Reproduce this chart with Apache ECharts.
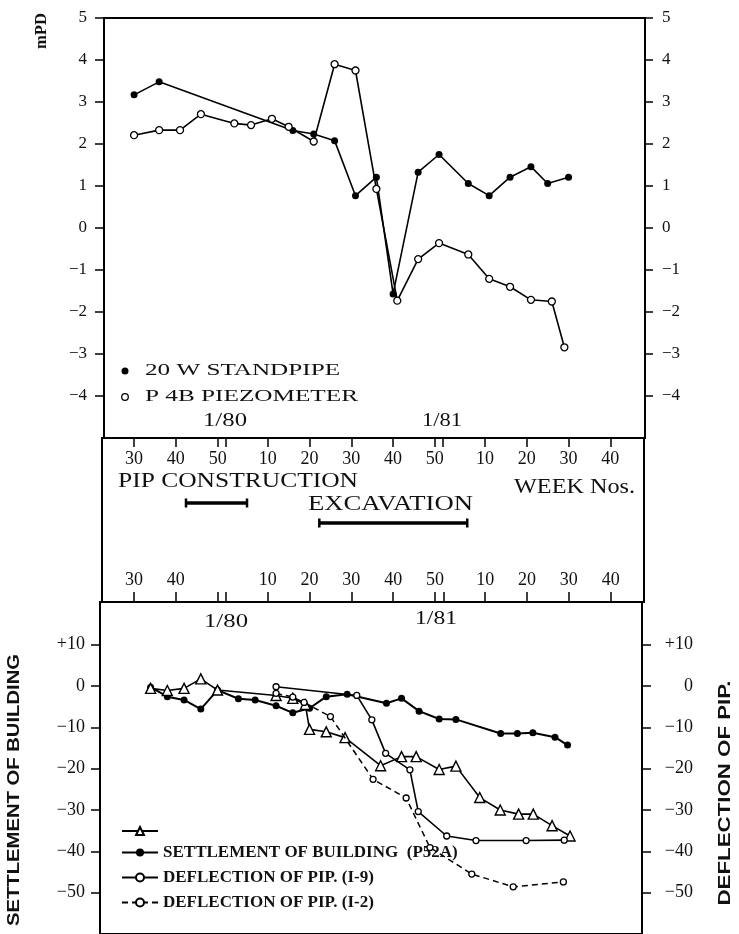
<!DOCTYPE html>
<html>
<head>
<meta charset="UTF-8">
<title>Groundwater level, building settlement and PIP deflection</title>
<style>
  html, body { margin: 0; padding: 0; background: #fff; }
  #chart { width: 739px; height: 934px; }
</style>
</head>
<body>
<div id="chart"></div>
<script src="https://cdn.jsdelivr.net/npm/echarts@6/dist/echarts.min.js"></script>
<script>
// weeks are counted on from 1979: week w of 1980 = 52 + w, week w of 1981 = 104 + w
var weekTicks = [30, 40, 50, 52, 62, 72, 82, 92, 102, 104, 114, 124, 134, 144];
var topWeekLabels = [30, 40, 50, 62, 72, 82, 92, 102, 114, 124, 134, 144];
var bottomWeekLabels = [30, 40, 62, 72, 82, 92, 102, 114, 124, 134, 144];
var levelTicks = [5, 4, 3, 2, 1, 0, -1, -2, -3, -4];
var deflTicks = [10, 0, -10, -20, -30, -40, -50];

// top panel: water level (mPD)
var standpipeWeeks = [30, 36, 68, 73, 78, 83, 88, 92, 98, 103, 110, 115, 120, 125, 129, 134];
var standpipeLevel = [3.17, 3.48, 2.32, 2.24, 2.08, 0.77, 1.21, -1.57, 1.33, 1.75, 1.06, 0.77, 1.21, 1.46, 1.06, 1.21];
var piezoWeeks = [30, 36, 41, 46, 54, 58, 63, 67, 73, 78, 83, 88, 93, 98, 103, 110, 115, 120, 125, 130, 133];
var piezoLevel = [2.21, 2.33, 2.33, 2.71, 2.49, 2.45, 2.60, 2.41, 2.06, 3.90, 3.75, 0.93, -1.73, -0.74, -0.36, -0.63, -1.21, -1.40, -1.71, -1.75, -2.84];

// periods of work (weeks)
var pipConstruction = [42.4, 57];
var excavation = [74.3, 109.7];

// bottom panel: settlement / deflection (mm)
var triWeeks = [34, 38, 42, 46, 50, 64, 68, 71, 72, 76, 80.5, 89, 94, 97.5, 103, 107, 112.7, 117.6, 122, 125.5, 130, 134.3];
var triValues = [-0.6, -1.1, -0.6, 1.7, -1.0, -2.3, -3.0, -4.5, -10.5, -11.1, -12.5, -19.3, -17.1, -17.1, -20.2, -19.4, -27, -30, -31, -31, -33.8, -36.3];
var settleWeeks = [34, 38, 42, 46, 50, 55, 59, 64, 68, 72, 76, 81, 90.4, 94, 98.2, 103, 107, 117.7, 121.7, 125.4, 130.7, 133.7];
var settleValues = [-0.3, -2.6, -3.4, -5.6, -1.0, -3.1, -3.4, -4.8, -6.5, -5.4, -2.6, -2.0, -4.2, -3.0, -6.1, -8.0, -8.1, -11.5, -11.5, -11.3, -12.4, -14.3];
var defl19Weeks = [64, 83.3, 86.9, 90.2, 96, 98, 104.8, 111.8, 123.8, 132.9];
var defl19Values = [-0.2, -2.3, -8.2, -16.3, -20.3, -30.4, -36.3, -37.4, -37.4, -37.3];
var defl12Weeks = [64, 68, 70.7, 77, 87.2, 95.1, 100.8, 110.8, 120.7, 132.7];
var defl12Values = [-1.8, -2.7, -4.0, -7.4, -22.6, -27.1, -39.1, -45.5, -48.6, -47.4];

function pairs(xs, ys) {
    return xs.map(function (x, i) { return [x, ys[i]]; });
}
function weekName(w) {
    return String(w > 104 ? w - 104 : (w > 52 ? w - 52 : w));
}
function signed(v, plus) {
    if (v < 0) return '\u2212' + Math.abs(v);
    if (v > 0 && plus) return '+' + v;
    return String(v);
}
var measureCtx = document.createElement('canvas').getContext('2d');
function fit(text, font, width) {
    measureCtx.font = font;
    return width / measureCtx.measureText(text).width;
}
function label(text, x, y, font, width, rotate, align) {
    return {
        type: 'text', x: x, y: y,
        rotation: rotate ? Math.PI / 2 : 0,
        scaleX: width ? fit(text, font, width) : 1,
        style: {
            text: text, font: font, fill: '#111',
            align: align || 'center', verticalAlign: 'middle'
        }
    };
}

var serif = 'Liberation Serif';
var blackLine = { color: '#000', width: 1.6 };
var tickStyle = { color: '#000', width: 1.5 };
var noLine = { show: false, onZero: false };

var chart = echarts.init(document.getElementById('chart'));
var option = {
    animation: false,
    backgroundColor: '#fff',
    grid: [
        { left: 104, right: 94, top: 18, height: 420, show: true, borderColor: '#000', borderWidth: 2 },
        { left: 100, right: 97, top: 602, height: 332, show: true, borderColor: '#000', borderWidth: 2 },
        { left: 102, right: 95, top: 438, height: 164, show: true, borderColor: '#000', borderWidth: 2 }
    ],
    xAxis: [
        {   // tick row under the upper panel
            gridIndex: 0, type: 'value', position: 'bottom', min: 22.8, max: 152.3,
            axisLine: noLine,
            axisTick: { show: true, length: 9, customValues: weekTicks, lineStyle: tickStyle },
            axisLabel: { customValues: topWeekLabels, formatter: weekName, margin: 12,
                fontFamily: serif, fontSize: 18, color: '#111' },
            splitLine: { show: false }
        },
        {   // tick row over the lower panel
            gridIndex: 1, type: 'value', position: 'top', min: 21.9, max: 151.5,
            axisLine: noLine,
            axisTick: { show: true, length: 10, customValues: weekTicks, lineStyle: tickStyle },
            axisLabel: { customValues: bottomWeekLabels, formatter: weekName, margin: 13,
                fontFamily: serif, fontSize: 18, color: '#111' },
            splitLine: { show: false }
        },
        { gridIndex: 2, type: 'value', min: 22.3, max: 152, show: false, axisLine: noLine }
    ],
    yAxis: [
        {
            gridIndex: 0, type: 'value', position: 'left', min: -5, max: 5,
            axisLine: noLine,
            axisTick: { show: true, length: 9, customValues: levelTicks, lineStyle: tickStyle },
            axisLabel: { customValues: levelTicks, formatter: function (v) { return signed(v); },
                margin: 17, fontFamily: serif, fontSize: 17, color: '#111' },
            splitLine: { show: false }
        },
        {
            gridIndex: 0, type: 'value', position: 'right', min: -5, max: 5,
            axisLine: noLine,
            axisTick: { show: true, length: 8, customValues: levelTicks, lineStyle: tickStyle },
            axisLabel: { customValues: levelTicks, formatter: function (v) { return signed(v); },
                margin: 17, fontFamily: serif, fontSize: 17, color: '#111' },
            splitLine: { show: false }
        },
        {
            gridIndex: 1, type: 'value', position: 'left', min: -60, max: 20.3,
            axisLine: noLine,
            axisTick: { show: true, length: 9, customValues: deflTicks, lineStyle: tickStyle },
            axisLabel: { customValues: deflTicks, formatter: function (v) { return signed(v, true); },
                margin: 15, fontFamily: serif, fontSize: 18, color: '#111' },
            splitLine: { show: false }
        },
        {
            gridIndex: 1, type: 'value', position: 'right', min: -60, max: 20.3,
            axisLine: noLine,
            axisTick: { show: true, length: 9, customValues: deflTicks, lineStyle: tickStyle },
            axisLabel: { customValues: deflTicks, formatter: function (v) { return signed(v, true); },
                margin: 51, align: 'right', fontFamily: serif, fontSize: 18, color: '#111' },
            splitLine: { show: false }
        },
        { gridIndex: 2, type: 'value', min: 0, max: 164, inverse: true, show: false, axisLine: noLine }
    ],
    legend: {
        orient: 'vertical', left: 116, top: 821, itemWidth: 36, itemHeight: 10, itemGap: 8,
        selectedMode: false,
        data: ['TRIANGLE', 'SETTLEMENT OF BUILDING', 'DEFLECTION OF PIP. (I-9)', 'DEFLECTION OF PIP. (I-2)'],
        formatter: function (name) {
            if (name === 'TRIANGLE') return '';
            if (name === 'SETTLEMENT OF BUILDING') return 'SETTLEMENT OF BUILDING  (P52A)';
            return name;
        },
        textStyle: { fontFamily: serif, fontWeight: 'bold', fontSize: 17, color: '#111' }
    },
    series: [
        {
            name: '20 W STANDPIPE', type: 'line', xAxisIndex: 0, yAxisIndex: 0,
            data: pairs(standpipeWeeks, standpipeLevel), showAllSymbol: true,
            symbol: 'circle', symbolSize: 7,
            itemStyle: { color: '#000' }, lineStyle: blackLine, z: 3
        },
        {
            name: 'P 4B PIEZOMETER', type: 'line', xAxisIndex: 0, yAxisIndex: 0,
            data: pairs(piezoWeeks, piezoLevel), showAllSymbol: true,
            symbol: 'circle', symbolSize: 7,
            itemStyle: { color: '#fff', borderColor: '#000', borderWidth: 1.3 }, lineStyle: blackLine, z: 4
        },
        {
            name: 'PIP CONSTRUCTION', type: 'line', xAxisIndex: 2, yAxisIndex: 4,
            data: [[pipConstruction[0], 65], [pipConstruction[1], 65]],
            symbol: 'rect', symbolSize: [2.5, 9], itemStyle: { color: '#000' },
            lineStyle: { color: '#000', width: 3.5 }, silent: true
        },
        {
            name: 'EXCAVATION', type: 'line', xAxisIndex: 2, yAxisIndex: 4,
            data: [[excavation[0], 85], [excavation[1], 85]],
            symbol: 'rect', symbolSize: [2.5, 9], itemStyle: { color: '#000' },
            lineStyle: { color: '#000', width: 3.5 }, silent: true
        },
        {
            name: 'TRIANGLE', type: 'line', xAxisIndex: 1, yAxisIndex: 2,
            data: pairs(triWeeks, triValues), showAllSymbol: true,
            symbol: 'triangle', symbolSize: 10,
            itemStyle: { color: '#fff', borderColor: '#000', borderWidth: 1.4 }, lineStyle: blackLine, z: 4
        },
        {
            name: 'SETTLEMENT OF BUILDING', type: 'line', xAxisIndex: 1, yAxisIndex: 2,
            data: pairs(settleWeeks, settleValues), showAllSymbol: true,
            symbol: 'circle', symbolSize: 7,
            itemStyle: { color: '#000' }, lineStyle: { color: '#000', width: 2 }, z: 3
        },
        {
            name: 'DEFLECTION OF PIP. (I-9)', type: 'line', xAxisIndex: 1, yAxisIndex: 2,
            data: pairs(defl19Weeks, defl19Values), showAllSymbol: true,
            symbol: 'circle', symbolSize: 6,
            itemStyle: { color: '#fff', borderColor: '#000', borderWidth: 1.3 }, lineStyle: blackLine, z: 5
        },
        {
            name: 'DEFLECTION OF PIP. (I-2)', type: 'line', xAxisIndex: 1, yAxisIndex: 2,
            data: pairs(defl12Weeks, defl12Values), showAllSymbol: true,
            symbol: 'circle', symbolSize: 6,
            itemStyle: { color: '#fff', borderColor: '#000', borderWidth: 1.3 },
            lineStyle: { color: '#000', width: 1.5, type: [6, 4] }, z: 5
        }
    ],
    graphic: [
        label('mPD', 42, 31, 'bold 16px "Liberation Serif"', 36, true),
        // upper legend
        { type: 'circle', shape: { cx: 125, cy: 371, r: 3.5 }, style: { fill: '#000' } },
        { type: 'circle', shape: { cx: 125, cy: 397, r: 3.3 }, style: { fill: '#fff', stroke: '#000', lineWidth: 1.3 } },
        label('20 W STANDPIPE', 145, 371, '16px "Liberation Serif"', 195, false, 'left'),
        label('P 4B PIEZOMETER', 145, 397, '16px "Liberation Serif"', 213, false, 'left'),
        label('1/80', 225, 421, '18px "Liberation Serif"', 44),
        label('1/81', 442, 421, '18px "Liberation Serif"', 40),
        // middle strip
        label('PIP CONSTRUCTION', 118, 482, '20px "Liberation Serif"', 240, false, 'left'),
        label('EXCAVATION', 308, 505, '20px "Liberation Serif"', 165, false, 'left'),
        label('WEEK Nos.', 514, 488, '20px "Liberation Serif"', 121, false, 'left'),
        // lower panel
        label('1/80', 226, 622, '18px "Liberation Serif"', 44),
        label('1/81', 436, 619, '18px "Liberation Serif"', 42),
        label('SETTLEMENT OF BUILDING', 14, 790, 'bold 17px "Liberation Sans"', 272, true),
        label('DEFLECTION OF PIP.', 725, 793, 'bold 17px "Liberation Sans"', 225, true)
    ]
};
chart.setOption(option);
</script>
</body>
</html>
